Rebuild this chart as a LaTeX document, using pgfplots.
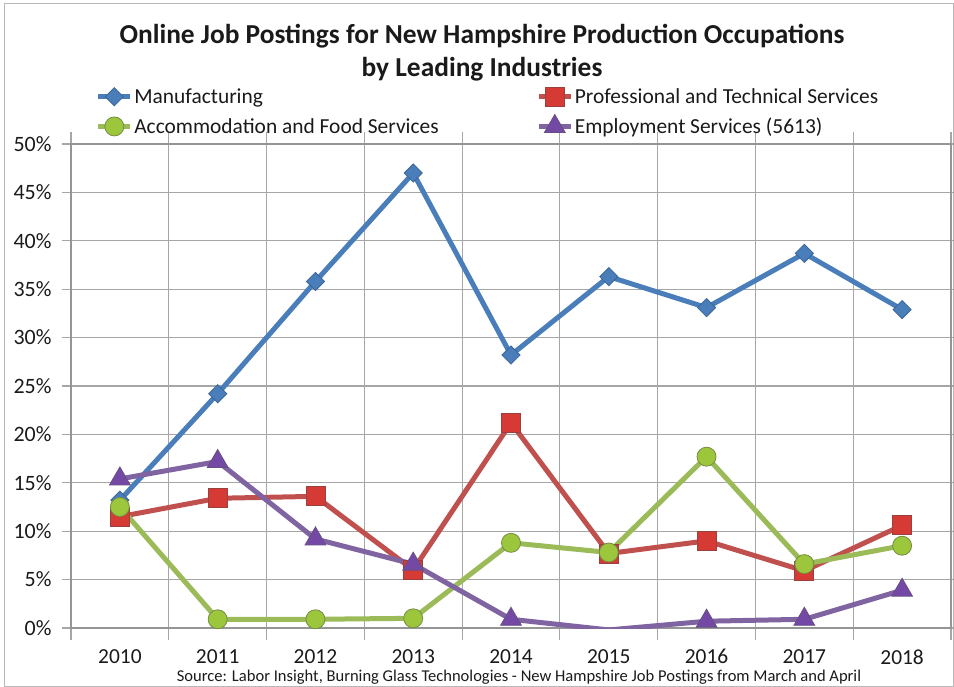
\documentclass[border=0pt]{standalone}
\usepackage{pgfplots}
\pgfplotsset{compat=1.18}
\usepackage{fontspec}
\setmainfont{Carlito}
\definecolor{cblue}{HTML}{4A7EBB}
\definecolor{cred}{HTML}{C0504D}
\definecolor{credm}{HTML}{D63A35}
\definecolor{cgreen}{HTML}{9BBB59}
\definecolor{cgreenm}{HTML}{9CC63C}
\definecolor{cpurple}{HTML}{8064A2}
\definecolor{cpurplem}{HTML}{7449A6}
\definecolor{gridc}{HTML}{A6A6A6}
\definecolor{txt}{HTML}{1A1A1A}
\begin{document}
\begin{tikzpicture}
\draw[gridc!80, line width=1bp] (-66bp,-58bp) rectangle (882bp,624bp);
\begin{axis}[
  scale only axis, width=880bp, height=484bp,
  xmin=-0.5, xmax=8.5, ymin=0, ymax=50,
  xtick={0,...,8}, xticklabels={2010,2011,2012,2013,2014,2015,2016,2017,2018},
  minor xtick={-0.5,0.5,...,8.5},
  ytick={0,5,...,50},
  yticklabel={\pgfmathprintnumber{\tick}\%},
  /pgf/number format/assume math mode=true,
  xminorgrids=true, ymajorgrids=true,
  minor grid style={gridc, line width=1.2bp},
  major grid style={gridc, line width=1.2bp},
  axis line style={gridc!90!black, line width=1.2bp},
  tick align=outside,
  major tick length=9bp, minor tick length=12bp,
  tick style={gridc, line width=1.2bp},
  major x tick style={draw=none},
  tick label style={font=\fontsize{21.5}{21.5}\selectfont, text=txt},
  yticklabel style={font=\fontsize{22}{22}\selectfont, xshift=-7bp},
  xticklabel style={yshift=-9bp},
  legend columns=2,
  legend cell align=left,
  legend style={at={(0.028,1.118)}, anchor=north west, draw=none, fill=none,
    inner sep=0pt, font=\fontsize{21.5}{21.5}\selectfont, text=txt,
    row sep=8bp, nodes={inner sep=1.5bp},
    /tikz/column 2/.style={column sep=96bp}},
  legend image code/.code={\draw[mark repeat=2,mark phase=2] plot coordinates {(0bp,0bp)(16bp,0bp)(32bp,0bp)};},
  every axis plot/.append style={line width=5bp},
]
\addplot[cblue, mark=square*, mark size=6.4bp, mark options={rotate=45, fill=cblue, draw=cblue!80!black, line width=0.8bp}]
  coordinates {(0,13.2)(1,24.2)(2,35.8)(3,47.0)(4,28.2)(5,36.3)(6,33.1)(7,38.7)(8,32.9)};
\addlegendentry{Manufacturing}
\addplot[cred, mark=square*, mark size=9.5bp, mark options={fill=credm, draw=cred!80!black, line width=0.8bp}]
  coordinates {(0,11.5)(1,13.4)(2,13.6)(3,6.0)(4,21.2)(5,7.7)(6,9.0)(7,5.9)(8,10.6)};
\addlegendentry{Professional and Technical Services}
\addplot[cgreen, mark=*, mark size=9.5bp, mark options={fill=cgreenm, draw=cgreen!75!black, line width=0.8bp}]
  coordinates {(0,12.5)(1,0.9)(2,0.9)(3,1.0)(4,8.8)(5,7.8)(6,17.7)(7,6.6)(8,8.5)};
\addlegendentry{Accommodation and Food Services}
\addplot[cpurple, mark=triangle*, mark size=12bp, mark options={fill=cpurplem, draw=cpurple!80!black, line width=0.8bp}]
  coordinates {(0,15.4)(1,17.2)(2,9.2)(3,6.6)(4,0.9)(5,-0.2)(6,0.7)(7,0.9)(8,3.9)};
\addlegendentry{Employment Services (5613)}
\end{axis}
\node[align=center, font=\bfseries\fontsize{27.5}{33}\selectfont, text=txt] at (411bp,575bp)
  {Online Job Postings for New Hampshire Production Occupations\\by Leading Industries};
\node[font=\fontsize{16.6}{16.6}\selectfont, text=txt, inner sep=0pt] at (448bp,-49bp)
  {Source: Labor Insight, Burning Glass Technologies - New Hampshire Job Postings from March and April};
\pgfresetboundingbox
\path (-71bp,-59bp) rectangle (883bp,628bp);
\end{tikzpicture}
\end{document}
